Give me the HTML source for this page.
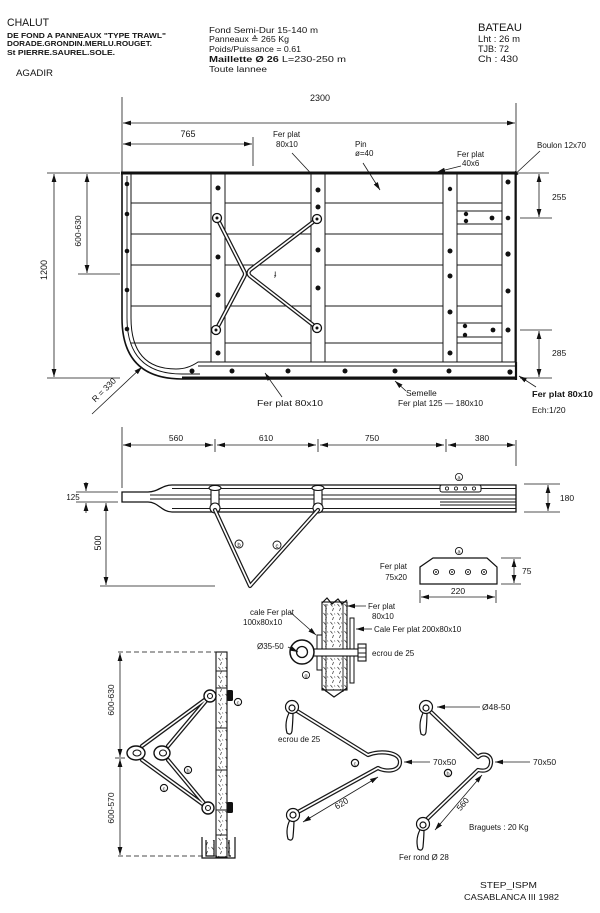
<!DOCTYPE html>
<html><head><meta charset="utf-8">
<style>
html,body{margin:0;padding:0;background:#fff;}
svg{display:block;}
text{font-family:"Liberation Sans",sans-serif;fill:#151515;}
.k{stroke:#1a1a1a;stroke-width:4.2;fill:none;stroke-linejoin:round;stroke-linecap:round;}
.w{stroke:#fff;stroke-width:1.7;fill:none;stroke-linejoin:round;stroke-linecap:round;}
.l{stroke:#1a1a1a;stroke-width:0.9;fill:none;}
.d{stroke:#1a1a1a;stroke-width:0.8;fill:none;}
</style></head><body>
<svg width="600" height="913" viewBox="0 0 600 913" xmlns="http://www.w3.org/2000/svg">
<defs>
<marker id="ar" viewBox="0 0 10 6" refX="10" refY="3" markerWidth="8" markerHeight="5" markerUnits="userSpaceOnUse" orient="auto-start-reverse"><path d="M0,0L10,3L0,6z" fill="#111"/></marker>
<pattern id="h" width="7" height="9" patternUnits="userSpaceOnUse"><path d="M1.5,1 l2,2.5 M4.5,5 l-1,3 M5.5,1.5 l0.5,1" stroke="#333" stroke-width="0.7" fill="none"/></pattern>
</defs>

<!-- HEADER -->
<text x="7" y="26" font-size="11" textLength="42" lengthAdjust="spacingAndGlyphs">CHALUT</text>
<text x="7" y="38" font-size="7.5" font-weight="bold" textLength="159" lengthAdjust="spacingAndGlyphs">DE FOND A PANNEAUX "TYPE TRAWL"</text>
<text x="7" y="46" font-size="7.5" font-weight="bold" textLength="145" lengthAdjust="spacingAndGlyphs">DORADE.GRONDIN.MERLU.ROUGET.</text>
<text x="7" y="55" font-size="7.5" font-weight="bold" textLength="108" lengthAdjust="spacingAndGlyphs">St PIERRE.SAUREL.SOLE.</text>
<text x="16" y="76" font-size="9.5" textLength="37" lengthAdjust="spacingAndGlyphs">AGADIR</text>

<text x="209" y="33" font-size="8.5" textLength="109" lengthAdjust="spacingAndGlyphs">Fond Semi-Dur 15-140 m</text>
<text x="209" y="42" font-size="8.5" textLength="80" lengthAdjust="spacingAndGlyphs">Panneaux ≙ 265 Kg</text>
<text x="209" y="52" font-size="8.5" textLength="92" lengthAdjust="spacingAndGlyphs">Poids/Puissance = 0.61</text>
<text x="209" y="62" font-size="8.5" textLength="137" lengthAdjust="spacingAndGlyphs"><tspan font-weight="bold">Maillette Ø 26</tspan>  L=230-250 m</text>
<text x="209" y="72" font-size="8" textLength="58" lengthAdjust="spacingAndGlyphs">Toute lannee</text>

<text x="478" y="31" font-size="11" textLength="44" lengthAdjust="spacingAndGlyphs">BATEAU</text>
<text x="478" y="42" font-size="9" textLength="42" lengthAdjust="spacingAndGlyphs">Lht : 26 m</text>
<text x="478" y="52" font-size="9" textLength="31" lengthAdjust="spacingAndGlyphs">TJB: 72</text>
<text x="478" y="62" font-size="9" textLength="40" lengthAdjust="spacingAndGlyphs">Ch  : 430</text>

<!-- TOP DIMENSIONS -->
<path class="d" d="M122,97V173 M516,103V173 M253,137V166"/>
<path class="d" d="M123,123H515" marker-start="url(#ar)" marker-end="url(#ar)"/>
<path class="d" d="M123,144H252" marker-start="url(#ar)" marker-end="url(#ar)"/>
<text x="320" y="101" font-size="9" text-anchor="middle">2300</text>
<text x="188" y="137" font-size="9" text-anchor="middle">765</text>

<!-- labels above panel -->
<text x="273" y="137" font-size="8">Fer plat</text>
<text x="276" y="147" font-size="8">80x10</text>
<path class="d" d="M292,153L318,181" marker-end="url(#ar)"/>
<text x="355" y="147" font-size="8">Pin</text>
<text x="355" y="156" font-size="8">ø=40</text>
<path class="d" d="M363,163L380,190" marker-end="url(#ar)"/>
<text x="457" y="157" font-size="8">Fer plat</text>
<text x="462" y="166" font-size="8">40x6</text>
<path class="d" d="M461,166L437,172" marker-end="url(#ar)"/>
<text x="537" y="148" font-size="8">Boulon 12x70</text>
<path class="d" d="M540,151L511,178" marker-end="url(#ar)"/>

<!-- LEFT DIMENSIONS -->
<path class="d" d="M47,173H120 M47,378H120 M78,274H120"/>
<path class="d" d="M54,174V377" marker-start="url(#ar)" marker-end="url(#ar)"/>
<path class="d" d="M87,174V273" marker-start="url(#ar)" marker-end="url(#ar)"/>
<text transform="translate(47,270) rotate(-90)" font-size="9" text-anchor="middle">1200</text>
<text transform="translate(81,231) rotate(-90)" font-size="8.5" text-anchor="middle">600-630</text>

<!-- RIGHT DIMENSIONS -->
<path class="d" d="M517,173H549 M520,218H552 M520,330H552 M520,378H552"/>
<path class="d" d="M539,174V217" marker-start="url(#ar)" marker-end="url(#ar)"/>
<path class="d" d="M539,331V377" marker-start="url(#ar)" marker-end="url(#ar)"/>
<text x="552" y="200" font-size="8.5">255</text>
<text x="552" y="356" font-size="8.5">285</text>

<!-- PANEL -->
<g class="l">
<path d="M131,203H502 M131,234H502 M131,265H502 M131,306H502 M131,343H502"/>
<path d="M457,211H502 M457,224H502 M457,323H502 M457,337H502"/>
</g>
<g fill="#fff" stroke="#1a1a1a" stroke-width="1">
<rect x="211" y="174" width="14" height="188"/>
<rect x="311" y="174" width="14" height="188"/>
<rect x="443" y="174" width="14" height="188"/>
<rect x="502" y="174" width="13" height="188"/>
</g>
<path d="M122,174V318Q122,379 182,379H516V174" fill="none" stroke="#111" stroke-width="1.6"/>
<path d="M127,176V318Q127,374 182,374H200" fill="none" stroke="#111" stroke-width="0.9"/>
<path d="M131,174V318Q131,369 176,369Q188,369 198,362H516" fill="none" stroke="#111" stroke-width="1"/>
<path d="M198,366H516" stroke="#111" stroke-width="0.9" fill="none"/>
<path d="M182,377.5H516" stroke="#111" stroke-width="2" fill="none"/>
<path d="M121,173H517" stroke="#111" stroke-width="3"/>
<path d="M516,362V380" stroke="#111" stroke-width="2.2"/>

<!-- dots -->
<g fill="#111">
<circle cx="127" cy="184" r="2.3"/><circle cx="127" cy="214" r="2.3"/><circle cx="127" cy="251" r="2.3"/><circle cx="127" cy="290" r="2.3"/><circle cx="127" cy="329" r="2.3"/>
<circle cx="218" cy="188" r="2.5"/><circle cx="218" cy="257" r="2.5"/><circle cx="218" cy="295" r="2.5"/><circle cx="218" cy="353" r="2.5"/>
<circle cx="318" cy="190" r="2.5"/><circle cx="318" cy="207" r="2.5"/><circle cx="318" cy="250" r="2.5"/><circle cx="318" cy="288" r="2.5"/>
<circle cx="450" cy="189" r="2.2"/><circle cx="450" cy="251" r="2.5"/><circle cx="450" cy="276" r="2.5"/><circle cx="450" cy="312" r="2.5"/><circle cx="450" cy="353" r="2.5"/>
<circle cx="508" cy="182" r="2.5"/><circle cx="508" cy="218" r="2.3"/><circle cx="508" cy="254" r="2.6"/><circle cx="508" cy="291" r="2.5"/><circle cx="508" cy="330" r="2.5"/><circle cx="510" cy="372" r="2.6"/>
<circle cx="466" cy="214" r="2.2"/><circle cx="466" cy="221" r="2.2"/><circle cx="492" cy="218" r="2.4"/>
<circle cx="465" cy="326" r="2.2"/><circle cx="465" cy="335" r="2.2"/><circle cx="493" cy="330" r="2.4"/>
<circle cx="192" cy="371" r="2.5"/><circle cx="232" cy="371" r="2.5"/><circle cx="288" cy="371" r="2.5"/><circle cx="345" cy="371" r="2.5"/><circle cx="395" cy="371" r="2.5"/><circle cx="449" cy="371" r="2.5"/>
</g>

<!-- X brace -->
<path class="k" d="M217,218L244,271Q246,274 244,277L216,330 M317,219L250,270Q247,273 250,276L317,328"/>
<path class="w" d="M217,218L244,271Q246,274 244,277L216,330 M317,219L250,270Q247,273 250,276L317,328"/>
<g fill="#fff" stroke="#111" stroke-width="1.3">
<circle cx="217" cy="218" r="4.5"/><circle cx="317" cy="219" r="4.5"/><circle cx="216" cy="330" r="4.5"/><circle cx="317" cy="328" r="4.5"/>
</g>
<g fill="#111"><circle cx="217" cy="218" r="1.5"/><circle cx="317" cy="219" r="1.5"/><circle cx="216" cy="330" r="1.5"/><circle cx="317" cy="328" r="1.5"/></g>
<text x="274" y="276" font-size="8">ɟ</text>

<!-- labels below panel -->
<path class="d" d="M92,414L142,367" marker-end="url(#ar)"/>
<text transform="translate(106,392) rotate(-45)" font-size="8.5" text-anchor="middle">R = 330</text>
<path class="d" d="M282,397L265,373" marker-end="url(#ar)"/>
<text x="257" y="406" font-size="8.5" textLength="66" lengthAdjust="spacingAndGlyphs">Fer plat 80x10</text>
<path class="d" d="M406,391L395,381" marker-end="url(#ar)"/>
<text x="406" y="396" font-size="8.5">Semelle</text>
<text x="398" y="406" font-size="8.5" textLength="85" lengthAdjust="spacingAndGlyphs">Fer plat 125 — 180x10</text>
<path class="d" d="M536,387L519,376" marker-end="url(#ar)"/>
<text x="532" y="397" font-size="8.5" font-weight="bold" textLength="61" lengthAdjust="spacingAndGlyphs">Fer plat 80x10</text>
<text x="532" y="413" font-size="8.5">Ech:1/20</text>

<!-- SIDE VIEW -->
<path class="d" d="M122,427V488 M516,440V466 M215,439V452 M318,439V452 M446,439V452"/>
<path class="d" d="M123,445H213" marker-start="url(#ar)" marker-end="url(#ar)"/>
<path class="d" d="M217,445H316" marker-start="url(#ar)" marker-end="url(#ar)"/>
<path class="d" d="M320,445H444" marker-start="url(#ar)" marker-end="url(#ar)"/>
<path class="d" d="M448,445H515" marker-start="url(#ar)" marker-end="url(#ar)"/>
<text x="176" y="441" font-size="8.5" text-anchor="middle">560</text>
<text x="266" y="441" font-size="8.5" text-anchor="middle">610</text>
<text x="372" y="441" font-size="8.5" text-anchor="middle">750</text>
<text x="482" y="441" font-size="8.5" text-anchor="middle">380</text>

<path d="M122,492L148,492C158,492 162,485 172,485L516,485L516,512L172,512C162,512 158,502 148,502L122,502Z" fill="#fff" stroke="#111" stroke-width="1.3"/>
<path class="l" d="M172,488.5H516 M150,495H516 M150,499H516 M172,508.5H516"/>
<path d="M440,502H516M440,505H516" stroke="#111" stroke-width="1" fill="none"/>
<rect x="440" y="485" width="41" height="7" rx="2" fill="#fff" stroke="#111" stroke-width="1"/>
<g fill="none" stroke="#111" stroke-width="0.8"><circle cx="447" cy="488.5" r="1.6"/><circle cx="456" cy="488.5" r="1.6"/><circle cx="465" cy="488.5" r="1.6"/><circle cx="474" cy="488.5" r="1.6"/>
<circle cx="459" cy="477" r="3.6"/></g>
<text x="459" y="479.5" font-size="5.5" text-anchor="middle">a</text>

<!-- bolts side -->
<g fill="#fff" stroke="#111" stroke-width="1.1">
<rect x="211" y="488" width="8" height="18"/><rect x="314" y="488" width="8" height="18"/>
<ellipse cx="215" cy="488" rx="6" ry="2.5"/><ellipse cx="318" cy="488" rx="6" ry="2.5"/>
<circle cx="215" cy="508" r="5"/><circle cx="318" cy="508" r="5"/>
</g>
<path class="k" d="M215,510L250,586L318,510" stroke-width="3.6"/>
<path class="w" d="M215,510L250,586L318,510" stroke-width="1.4"/>
<g fill="none" stroke="#111" stroke-width="0.9"><circle cx="239" cy="544" r="4"/><circle cx="277" cy="545" r="4"/></g>
<text x="239" y="547" font-size="6" text-anchor="middle">b</text>
<text x="277" y="548" font-size="6" text-anchor="middle">c</text>

<!-- 125 / 500 / 180 -->
<path class="d" d="M76,492H118 M76,502H118 M100,586H215"/>
<path class="d" d="M86,482V491" marker-end="url(#ar)"/>
<path class="d" d="M86,513V503" marker-end="url(#ar)"/>
<text x="73" y="500" font-size="8" text-anchor="middle">125</text>
<path class="d" d="M106,503V585" marker-start="url(#ar)" marker-end="url(#ar)"/>
<text transform="translate(101,543) rotate(-90)" font-size="9" text-anchor="middle">500</text>
<path class="d" d="M524,484H560 M524,512H560"/>
<path class="d" d="M548,485V511" marker-start="url(#ar)" marker-end="url(#ar)"/>
<text x="567" y="501" font-size="8.5" text-anchor="middle">180</text>

<!-- PLATE DETAIL -->
<path d="M433,558H487L497,567V584H420V567Z" fill="#fff" stroke="#111" stroke-width="1.2"/>
<g fill="none" stroke="#111" stroke-width="0.9"><circle cx="436" cy="572" r="2.6"/><circle cx="452" cy="572" r="2.6"/><circle cx="468" cy="572" r="2.6"/><circle cx="484" cy="572" r="2.6"/><circle cx="459" cy="551" r="3.6"/></g>
<g fill="#111"><circle cx="436" cy="572" r="0.9"/><circle cx="452" cy="572" r="0.9"/><circle cx="468" cy="572" r="0.9"/><circle cx="484" cy="572" r="0.9"/></g>
<text x="459" y="553.5" font-size="5.5" text-anchor="middle">a</text>
<text x="407" y="569" font-size="8" text-anchor="end">Fer plat</text>
<text x="407" y="580" font-size="8" text-anchor="end">75x20</text>
<path class="d" d="M501,558H521 M501,584H521 M420,590V603 M496,590V603"/>
<path class="d" d="M514,559V583" marker-start="url(#ar)" marker-end="url(#ar)"/>
<text x="522" y="574" font-size="8.5">75</text>
<path class="d" d="M421,597H495" marker-start="url(#ar)" marker-end="url(#ar)"/>
<text x="458" y="594" font-size="8.5" text-anchor="middle">220</text>

<!-- MIDDLE POST DETAIL -->
<rect x="322" y="602" width="25" height="88" fill="url(#h)" stroke="#111" stroke-width="1.1"/>
<path d="M322,603L327,598L332,604L338,599L342,604L347,600" fill="none" stroke="#111" stroke-width="1.2"/>
<path d="M322,688L334,697L347,688" fill="none" stroke="#111" stroke-width="1.2"/>
<path class="l" d="M326,604V692 M343,604V692"/>
<rect x="317" y="635" width="5" height="35" fill="#fff" stroke="#111" stroke-width="1"/>
<rect x="350" y="618" width="4" height="65" fill="#fff" stroke="#111" stroke-width="1"/>
<rect x="312" y="649" width="47" height="7" fill="#fff" stroke="#111" stroke-width="1.1"/>
<rect x="358" y="644" width="8" height="17" fill="#fff" stroke="#111" stroke-width="1.1"/>
<path class="l" d="M358,648H366 M358,653H366 M358,657H366"/>
<circle cx="302" cy="652" r="12" fill="#fff" stroke="#111" stroke-width="1.5"/>
<circle cx="302" cy="652" r="5.5" fill="#fff" stroke="#111" stroke-width="1.3"/>
<circle cx="306" cy="675" r="3.6" fill="none" stroke="#111" stroke-width="0.9"/>
<text x="306" y="677.5" font-size="5.5" text-anchor="middle">g</text>
<text x="368" y="609" font-size="8">Fer plat</text>
<text x="372" y="619" font-size="8">80x10</text>
<path class="d" d="M366,606H347" marker-end="url(#ar)"/>
<text x="374" y="632" font-size="8">Cale Fer plat 200x80x10</text>
<path class="d" d="M372,629H356" marker-end="url(#ar)"/>
<text x="250" y="615" font-size="8">cale Fer plat</text>
<text x="243" y="625" font-size="8">100x80x10</text>
<path class="d" d="M290,612L316,635" marker-end="url(#ar)"/>
<text x="257" y="649" font-size="8">Ø35-50</text>
<path class="d" d="M288,647L298,652" marker-end="url(#ar)"/>
<text x="372" y="656" font-size="8">ecrou de 25</text>

<!-- LOWER LEFT ASSEMBLY -->
<path d="M118,652H217 M118,856H217" stroke="#111" stroke-width="0.8" stroke-dasharray="5,3" fill="none"/>
<path class="d" d="M120,653V757" marker-start="url(#ar)" marker-end="url(#ar)"/>
<path class="d" d="M120,759V855" marker-start="url(#ar)" marker-end="url(#ar)"/>
<path class="d" d="M115,758H125"/>
<text transform="translate(114,700) rotate(-90)" font-size="8.5" text-anchor="middle">600-630</text>
<text transform="translate(114,808) rotate(-90)" font-size="8.5" text-anchor="middle">600-570</text>
<rect x="216" y="652" width="11" height="205" fill="url(#h)" stroke="#111" stroke-width="1.1"/>
<path class="l" d="M216,671H227 M216,688H227 M216,728H227 M216,770H227 M216,810H227 M216,835H227"/>
<path d="M202,837V858H235V837 M206,840V856H214V840 M229,840V856H231" fill="none" stroke="#111" stroke-width="1.2"/>
<rect x="206" y="840" width="8" height="16" fill="url(#h)"/>
<rect x="228" y="840" width="4" height="16" fill="url(#h)"/>
<g fill="#111"><rect x="227" y="690" width="6" height="11" rx="1.5"/><rect x="227" y="802" width="6" height="11" rx="1.5"/></g>
<path class="k" d="M210,696L142,746 M142,760L208,808 M210,696L168,746 M168,760L208,808"/>
<path class="w" d="M210,696L142,746 M142,760L208,808 M210,696L168,746 M168,760L208,808"/>
<g fill="#fff" stroke="#111" stroke-width="1.4">
<ellipse cx="136" cy="753" rx="9" ry="7"/><ellipse cx="162" cy="753" rx="8" ry="7"/>
<circle cx="210" cy="696" r="6"/><circle cx="208" cy="808" r="6"/>
</g>
<g fill="none" stroke="#111" stroke-width="1.1"><ellipse cx="137" cy="753" rx="4" ry="3"/><ellipse cx="163" cy="753" rx="3.5" ry="3"/><circle cx="210" cy="696" r="2.5"/><circle cx="208" cy="808" r="2.5"/>
<circle cx="238" cy="702" r="3.6"/><circle cx="188" cy="770" r="3.6"/><circle cx="164" cy="788" r="3.6"/></g>
<text x="238" y="704.5" font-size="5.5" text-anchor="middle">c</text>
<text x="188" y="772.5" font-size="5.5" text-anchor="middle">b</text>
<text x="164" y="790.5" font-size="5.5" text-anchor="middle">c</text>

<!-- RIGHT BRAGUETS -->
<path class="k" d="M297,711L368,755C380,750 400,752 400,762C400,772 385,772 378,768L298,812"/>
<path class="w" d="M297,711L368,755C380,750 400,752 400,762C400,772 385,772 378,768L298,812"/>
<path class="k" d="M431,712L478,757C483,752 492,755 491,763C490,772 482,771 478,770L425,821"/>
<path class="w" d="M431,712L478,757C483,752 492,755 491,763C490,772 482,771 478,770L425,821"/>
<g fill="#fff" stroke="#111" stroke-width="1.2">
<path d="M290,711Q284,722 287,733Q291,736 292,731Q293,720 293,712Z"/>
<path d="M291,818Q285,828 288,839Q292,842 293,837Q294,826 294,819Z"/>
<path d="M424,711Q418,722 421,734Q425,737 426,732Q427,721 427,712Z"/>
<path d="M421,828Q415,838 418,849Q422,852 423,847Q424,836 424,829Z"/>
<circle cx="292" cy="707" r="6.5"/><circle cx="293" cy="815" r="6.5"/><circle cx="426" cy="707" r="6.5"/><circle cx="423" cy="824" r="6.5"/>
</g>
<g fill="none" stroke="#111" stroke-width="1.2"><circle cx="292" cy="708" r="3"/><circle cx="293" cy="815" r="3"/><circle cx="426" cy="708" r="3"/><circle cx="423" cy="825" r="3"/>
<circle cx="355" cy="763" r="3.6"/><circle cx="448" cy="773" r="3.6"/></g>
<text x="355" y="765.5" font-size="5.5" text-anchor="middle">c</text>
<text x="448" y="775.5" font-size="5.5" text-anchor="middle">b</text>
<text x="278" y="742" font-size="8">ecrou de 25</text>
<path class="d" d="M480,707H437" marker-end="url(#ar)"/>
<text x="482" y="710" font-size="8.5">Ø48-50</text>
<path class="d" d="M430,762H404" marker-end="url(#ar)"/>
<text x="433" y="765" font-size="8.5">70x50</text>
<path class="d" d="M530,762H495" marker-end="url(#ar)"/>
<text x="533" y="765" font-size="8.5">70x50</text>
<path class="d" d="M303,822L378,777" marker-start="url(#ar)" marker-end="url(#ar)"/>
<text transform="translate(343,806) rotate(-31)" font-size="8.5" text-anchor="middle">620</text>
<path class="d" d="M435,830L482,775" marker-start="url(#ar)" marker-end="url(#ar)"/>
<text transform="translate(465,806) rotate(-50)" font-size="8.5" text-anchor="middle">560</text>
<text x="469" y="830" font-size="8">Braguets : 20 Kg</text>
<text x="399" y="860" font-size="8">Fer rond Ø 28</text>

<!-- FOOTER -->
<text x="480" y="888" font-size="8.5" textLength="57" lengthAdjust="spacingAndGlyphs">STEP_ISPM</text>
<text x="464" y="900" font-size="8.5" textLength="95" lengthAdjust="spacingAndGlyphs">CASABLANCA III 1982</text>
</svg>
</body></html>
